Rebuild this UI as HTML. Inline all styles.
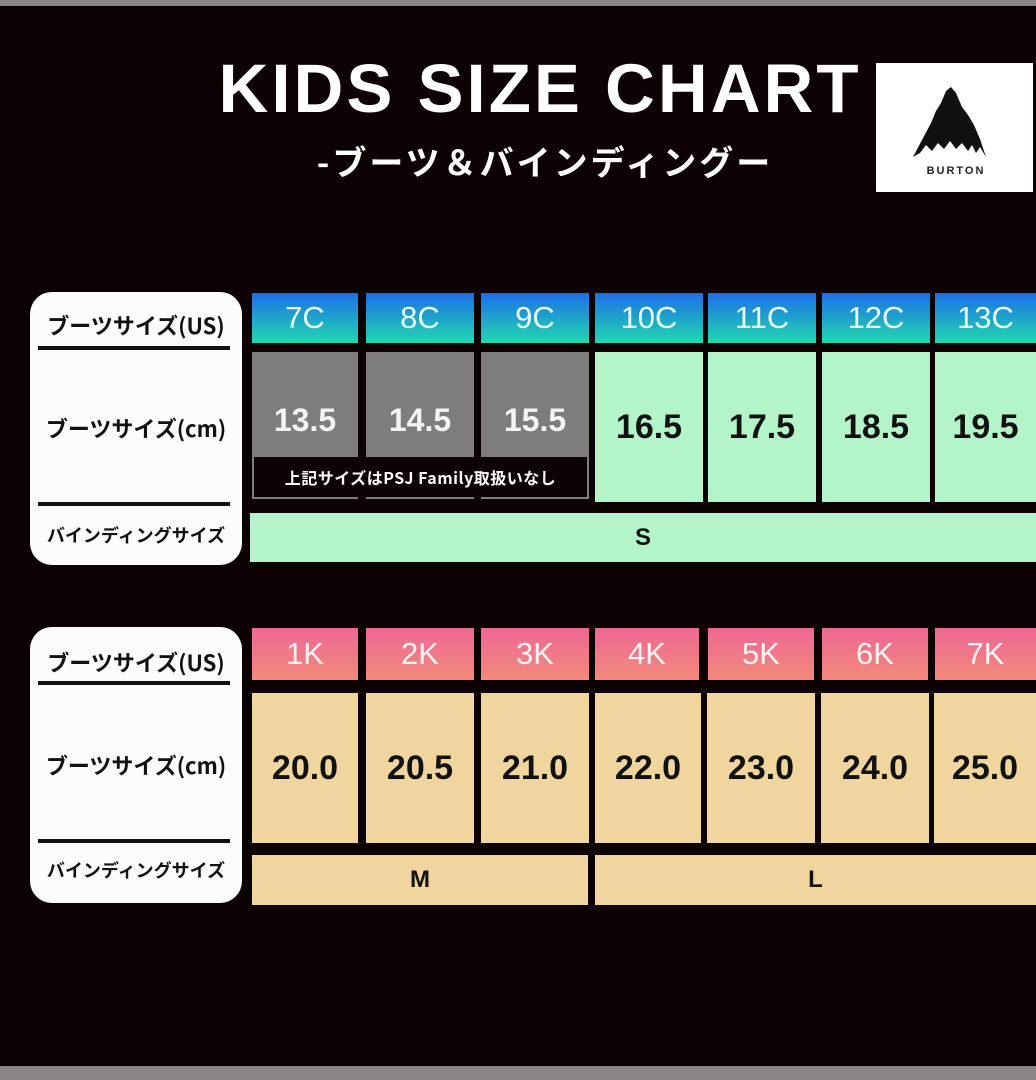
<!DOCTYPE html>
<html><head><meta charset="utf-8"><style>
*{margin:0;padding:0;box-sizing:border-box}
body{width:1036px;height:1080px;background:#0c0103;position:relative;overflow:hidden;font-family:"Liberation Sans","Noto Sans CJK JP",sans-serif}
.a{position:absolute;display:flex;align-items:center;justify-content:center}
.hb{background:linear-gradient(#1c6fe6,#22d8b0);color:#e8fff6;font-size:31px}
.hp{background:linear-gradient(#ee6794,#f28a7a);color:#fff3f3;font-size:31px}
.g{background:#b4f4c9;color:#111;font-weight:bold;font-size:34px}
.gr{background:#7e7c7c;color:#f4f4f4;font-weight:bold;font-size:32px;align-items:flex-start;padding-top:50px}
.b{background:#f0d59f;color:#111;font-weight:bold;font-size:34px}
.lb{position:absolute;left:30px;width:212px;background:#fcfcfc;border-radius:22px}
.lt{position:absolute;left:0;width:212px;text-align:center;color:#111;font-weight:bold;font-family:"Noto Sans CJK JP",sans-serif;white-space:nowrap}
.ln{position:absolute;left:8px;width:192px;height:4px;background:#111}
</style></head><body>
<div style="position:absolute;left:0;top:0;width:1036px;height:6px;background:#8a8688"></div>
<div style="position:absolute;left:0;top:1066px;width:1036px;height:14px;background:#8a8688"></div>
<div class="a" style="left:180px;top:46px;width:720px;height:84px;color:#fff;font-weight:bold;font-size:69px;letter-spacing:3px">KIDS SIZE CHART</div>
<div class="a" style="left:270px;top:136px;width:550px;height:48px;color:#fff;font-size:34px;font-weight:bold;letter-spacing:3px;font-family:'Noto Sans CJK JP',sans-serif">-ブーツ＆バインディングー</div>
<div style="position:absolute;left:876px;top:63px;width:157px;height:129px;background:#fff">
<svg width="157" height="129" viewBox="0 0 157 129"><path d="M37 94 L55 60 L60 48 L65 40 L70 28 L75 24 L80 30 L86 44 L92 52 L98 62 L104 76 L110 94 L104 84 L100 90 L96 82 L92 88 L86 80 L80 86 L74 78 L68 86 L62 80 L56 88 L50 82 L44 90 Z" fill="#111"/><text x="80" y="111" text-anchor="middle" font-family="Liberation Sans" font-weight="bold" font-size="11" letter-spacing="2" fill="#222">BURTON</text></svg></div>

<div class="lb" style="top:292px;height:273px">
<div class="lt" style="top:17px;font-size:22px">ブーツサイズ(US)</div>
<div class="ln" style="top:54px"></div>
<div class="lt" style="top:120px;font-size:22px">ブーツサイズ(cm)</div>
<div class="ln" style="top:210px"></div>
<div class="lt" style="top:230px;font-size:18px">バインディングサイズ</div>
</div>
<div class="lb" style="top:627px;height:276px">
<div class="lt" style="top:19px;font-size:22px">ブーツサイズ(US)</div>
<div class="ln" style="top:54px"></div>
<div class="lt" style="top:122px;font-size:22px">ブーツサイズ(cm)</div>
<div class="ln" style="top:212px"></div>
<div class="lt" style="top:230px;font-size:18px">バインディングサイズ</div>
</div>

<!-- table 1 -->
<div class="a hb" style="left:252px;top:293px;width:106px;height:50px">7C</div>
<div class="a hb" style="left:366px;top:293px;width:108px;height:50px">8C</div>
<div class="a hb" style="left:481px;top:293px;width:108px;height:50px">9C</div>
<div class="a hb" style="left:595px;top:293px;width:108px;height:50px">10C</div>
<div class="a hb" style="left:708px;top:293px;width:108px;height:50px">11C</div>
<div class="a hb" style="left:822px;top:293px;width:108px;height:50px">12C</div>
<div class="a hb" style="left:935px;top:293px;width:101px;height:50px">13C</div>
<div class="a gr" style="left:252px;top:352px;width:106px;height:147px">13.5</div>
<div class="a gr" style="left:366px;top:352px;width:108px;height:147px">14.5</div>
<div class="a gr" style="left:481px;top:352px;width:108px;height:147px">15.5</div>
<div class="a" style="left:254px;top:457px;width:333px;height:40px;background:#0c0103;color:#fff;font-weight:bold;font-size:16px;letter-spacing:0.5px;font-family:'Noto Sans CJK JP',sans-serif">上記サイズはPSJ Family取扱いなし</div>
<div class="a g" style="left:595px;top:352px;width:108px;height:150px">16.5</div>
<div class="a g" style="left:708px;top:352px;width:108px;height:150px">17.5</div>
<div class="a g" style="left:822px;top:352px;width:108px;height:150px">18.5</div>
<div class="a g" style="left:935px;top:352px;width:101px;height:150px">19.5</div>
<div class="a g" style="left:250px;top:513px;width:786px;height:49px;font-size:24px">S</div>

<!-- table 2 -->
<div class="a hp" style="left:252px;top:628px;width:106px;height:52px">1K</div>
<div class="a hp" style="left:366px;top:628px;width:108px;height:52px">2K</div>
<div class="a hp" style="left:481px;top:628px;width:108px;height:52px">3K</div>
<div class="a hp" style="left:595px;top:628px;width:104px;height:52px">4K</div>
<div class="a hp" style="left:708px;top:628px;width:106px;height:52px">5K</div>
<div class="a hp" style="left:822px;top:628px;width:106px;height:52px">6K</div>
<div class="a hp" style="left:935px;top:628px;width:101px;height:52px">7K</div>
<div class="a b" style="left:252px;top:693px;width:106px;height:150px">20.0</div>
<div class="a b" style="left:366px;top:693px;width:108px;height:150px">20.5</div>
<div class="a b" style="left:481px;top:693px;width:108px;height:150px">21.0</div>
<div class="a b" style="left:595px;top:693px;width:106px;height:150px">22.0</div>
<div class="a b" style="left:707px;top:693px;width:108px;height:150px">23.0</div>
<div class="a b" style="left:821px;top:693px;width:108px;height:150px">24.0</div>
<div class="a b" style="left:934px;top:693px;width:102px;height:150px">25.0</div>
<div class="a b" style="left:252px;top:855px;width:336px;height:50px;font-size:24px">M</div>
<div class="a b" style="left:595px;top:855px;width:441px;height:50px;font-size:24px">L</div>
</body></html>
